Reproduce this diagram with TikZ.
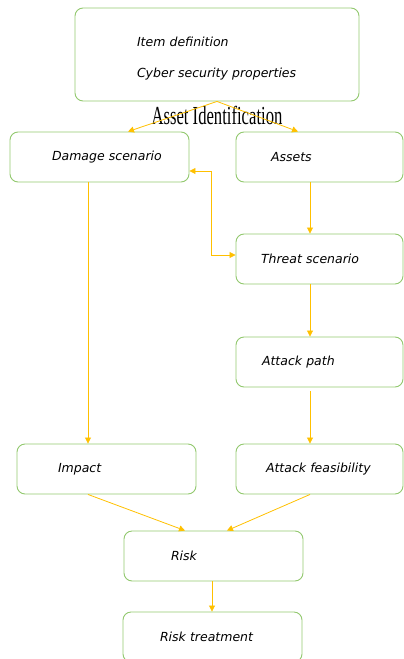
\documentclass[tikz,border=0pt]{standalone}
\usepackage{fontspec}
\usepackage{graphicx}
\setmainfont{DejaVu Sans}
\newfontfamily\titlefont{Liberation Serif}
\usetikzlibrary{arrows.meta}

\definecolor{boxgreen}{RGB}{146,200,110}
\definecolor{flowyellow}{RGB}{255,192,0}

\tikzset{
  blk/.style={draw=boxgreen, line width=0.9pt, rounded corners=8pt,
    minimum height=50pt, inner sep=0pt, align=left,
    font=\fontsize{12.5}{14}\selectfont\itshape},
  flow/.style={draw=flowyellow, line width=0.8pt,
    -{Triangle[length=6pt,width=6pt]}}
}

\begin{document}
\begin{tikzpicture}[x=1pt,y=-1pt]
\useasboundingbox (0,0) rectangle (404,659);

\coordinate (col) at (310,0);
\coordinate (lcol) at (88,0);

\node[blk, minimum width=284pt, minimum height=93pt, text width=284pt] (top) at (217,54.5)
  {\hspace*{62pt}\rule{0pt}{17pt}Item definition\\[17pt]\hspace*{62pt}Cyber security properties};
\node (asset) at (217,115)
  {\titlefont\fontsize{26}{26}\selectfont\scalebox{0.64}[1]{Asset Identification}};

\node[blk, minimum width=179pt, text width=179pt] (dmg) at (99.5,157) {\hspace*{42pt}Damage scenario};
\node[blk, minimum width=167pt, text width=167pt] (assets) at (319.5,157) {\hspace*{35pt}Assets};
\node[blk, minimum width=167pt, text width=167pt] (thr) at (319.5,259) {\hspace*{25pt}Threat scenario};
\node[blk, minimum width=167pt, text width=167pt] (path) at (319.5,362) {\hspace*{26pt}Attack path};
\node[blk, minimum width=179pt, text width=179pt] (imp) at (106.5,469) {\hspace*{41pt}Impact};
\node[blk, minimum width=167pt, text width=167pt] (feas) at (319.5,469) {\hspace*{30pt}Attack feasibility};
\node[blk, minimum width=179pt, text width=179pt] (risk) at (213.5,556) {\hspace*{47pt}Risk};
\node[blk, minimum width=179pt, text width=179pt] (treat) at (212.5,637) {\hspace*{37pt}Risk treatment};

\draw[flow] (top.south) -- ([xshift=28.5pt]dmg.north);
\draw[flow] (top.south) -- ([xshift=-21.5pt]assets.north);

\draw[flow] (assets.south -| col) -- (thr.north -| col);
\draw[flow] (thr.south -| col) -- (path.north -| col);
\draw[flow] ([yshift=-4pt]path.south -| col) -- (feas.north -| col);
\draw[flow] (dmg.south -| lcol) -- (imp.north -| lcol);

\draw[flow, {Triangle[length=6pt,width=6pt]}-{Triangle[length=6pt,width=6pt]}]
  ([yshift=-14pt]dmg.east) -- ++(22,0) |- ([yshift=4pt]thr.west);

\draw[flow] (imp.south -| lcol) -- ([xshift=-28.5pt]risk.north);
\draw[flow] (feas.south -| col) -- ([xshift=13.5pt]risk.north);
\draw[flow] ([xshift=-1.5pt]risk.south) -- ([xshift=-1.5pt]risk.south |- treat.north);

\end{tikzpicture}
\end{document}
